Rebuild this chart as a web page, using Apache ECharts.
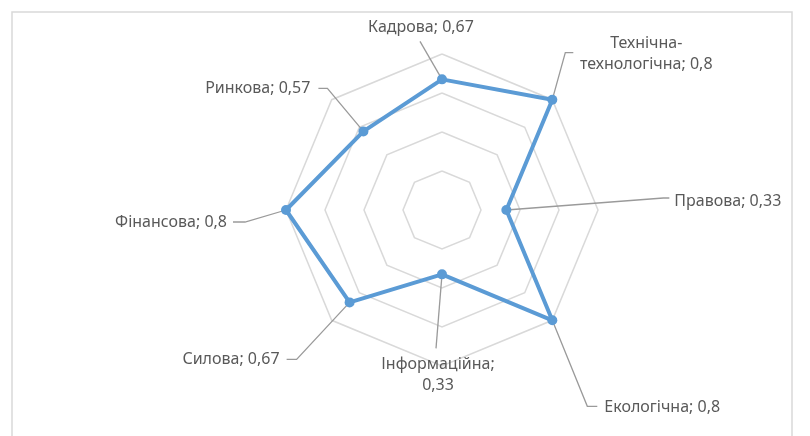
<!DOCTYPE html>
<html><head><meta charset="utf-8">
<script src="https://cdn.jsdelivr.net/npm/echarts@6/dist/echarts.min.js"></script>
<style>html,body{margin:0;padding:0;background:#fff}#c{width:810px;height:436px}</style>
</head><body><div id="c"></div>
<script>
const categories = ['Кадрова', 'Технічна-технологічна', 'Правова', 'Екологічна', 'Інформаційна', 'Силова', 'Фінансова', 'Ринкова'];
const values = [0.67, 0.8, 0.33, 0.8, 0.33, 0.67, 0.8, 0.57];
const axisMax = 0.8;
const splitCount = 4;

// label layout (pixel offsets from each marker): leader elbow points, text anchor, alignment
const labelLayout = [
  { lead: [[-22, -38]], text: [-21, -52], align: 'center' },
  { lead: [[13, -47], [21, -47]], text: [94, -46], align: 'center', wrap: 'name' },
  { lead: [[157, -12], [163, -12]], text: [168, -9], align: 'left' },
  { lead: [[35, 86], [45, 86]], text: [52, 87], align: 'left' },
  { lead: [[-6, 74]], text: [-4, 101], align: 'center', wrap: 'value' },
  { lead: [[-53, 57], [-63, 57]], text: [-70, 57], align: 'right' },
  { lead: [[-41, 12], [-53, 12]], text: [-59, 12], align: 'right' },
  { lead: [[-36, -43], [-45, -43]], text: [-53, -43], align: 'right' }
];

const CENTER = [442, 210];
const RADIUS = 156;
const FONT = '16px "Noto Sans"';

function fmt(v) { return String(v).replace('.', ','); }
function labelText(i) {
  const L = labelLayout[i];
  const name = categories[i], val = fmt(values[i]);
  if (L.wrap === 'name') return name.replace('-', '-\n') + '; ' + val;
  if (L.wrap === 'value') return name + ';\n' + val;
  return name + '; ' + val;
}

// ECharts radar goes counter-clockwise; reverse (keeping first at top) to get clockwise order
const order = [0].concat(categories.map((_, i) => i).slice(1).reverse());

const chart = echarts.init(document.getElementById('c'));
chart.setOption({
  animation: false,
  backgroundColor: '#fff',
  graphic: [{
    type: 'rect', silent: true,
    shape: { x: 12, y: 12, width: 780, height: 440 },
    style: { fill: null, stroke: '#D9D9D9', lineWidth: 1.5 }
  }],
  radar: {
    center: CENTER, radius: RADIUS, startAngle: 90, splitNumber: splitCount, shape: 'polygon',
    indicator: order.map(i => ({ name: categories[i], min: 0, max: axisMax })),
    axisName: { show: false },
    axisLine: { show: false },
    axisTick: { show: false },
    axisLabel: { show: false },
    splitArea: { show: false },
    splitLine: { lineStyle: { color: '#D9D9D9', width: 1.5 } }
  },
  polar: { center: CENTER, radius: RADIUS },
  angleAxis: { type: 'value', min: 0, max: categories.length, startAngle: 90, clockwise: true, show: false },
  radiusAxis: { type: 'value', min: 0, max: axisMax, show: false },
  series: [
    {
      type: 'radar', z: 3,
      symbol: 'circle', symbolSize: 10,
      lineStyle: { color: '#5B9BD5', width: 4 },
      itemStyle: { color: '#5B9BD5' },
      data: [{ value: order.map(i => values[i]) }]
    },
    {
      type: 'custom', coordinateSystem: 'polar', z: 1, silent: true,
      data: values.map((v, i) => [v, i]),
      renderItem: function (params, api) {
        const v = api.value(0), i = api.value(1);
        const p = api.coord([v, i]);
        const L = labelLayout[i];
        const pts = [p].concat(L.lead.map(o => [p[0] + o[0], p[1] + o[1]]));
        return {
          type: 'group', children: [
            { type: 'polyline', shape: { points: pts }, style: { stroke: '#9A9A9A', lineWidth: 1.3, fill: null } },
            { type: 'text', x: p[0] + L.text[0], y: p[1] + L.text[1],
              style: { text: labelText(i), fill: '#595959', font: FONT, align: L.align, verticalAlign: 'middle', lineHeight: 21 } }
          ]
        };
      }
    }
  ]
});
</script></body></html>
